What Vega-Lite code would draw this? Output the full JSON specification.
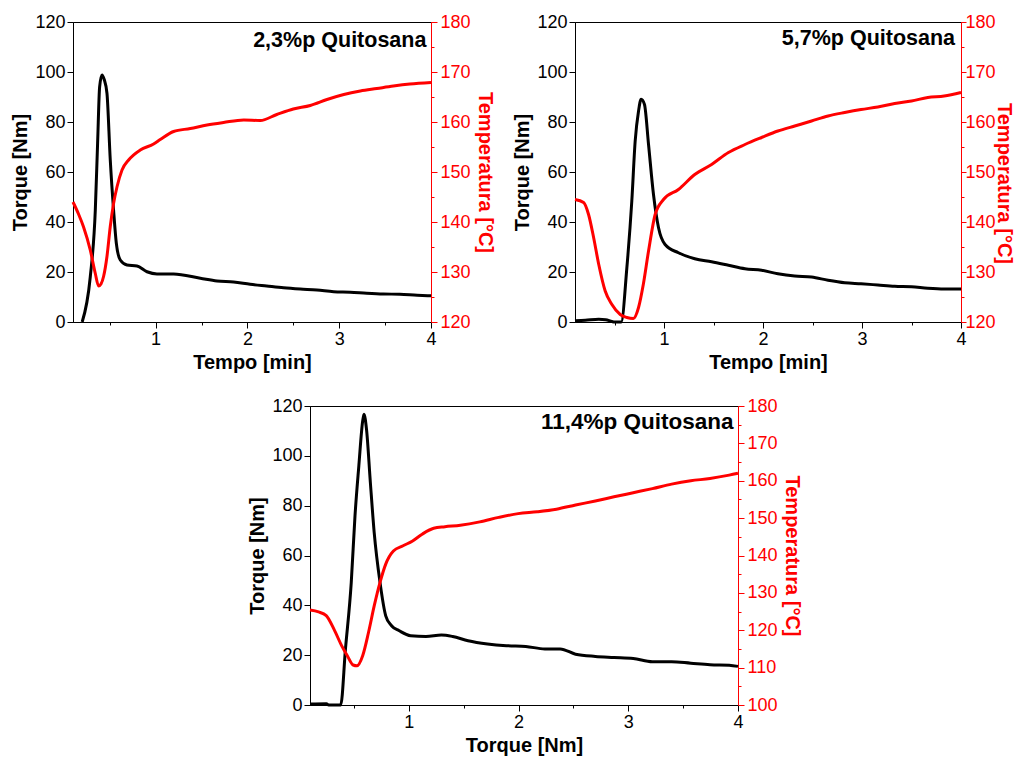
{
  "$schema": "https://vega.github.io/schema/vega-lite/v6.json",
  "padding": {"left": 10, "top": 12, "right": 0, "bottom": 0},
  "background": "white",
  "datasets": {
    "p1_torque": [
      {"t": 0.2, "v": 0}, {"t": 0.288, "v": 18}, {"t": 0.343, "v": 44.8}, {"t": 0.368, "v": 71.5}, {"t": 0.39, "v": 94}, {"t": 0.416, "v": 98.8}, {"t": 0.44, "v": 97}, {"t": 0.47, "v": 91.5}, {"t": 0.506, "v": 64.8}, {"t": 0.542, "v": 44.8}, {"t": 0.572, "v": 31.5}, {"t": 0.615, "v": 24.8}, {"t": 0.688, "v": 22.8}, {"t": 0.797, "v": 22.4}, {"t": 0.906, "v": 20.1}, {"t": 1.015, "v": 19.2}, {"t": 1.196, "v": 19.2}, {"t": 1.487, "v": 17.5}, {"t": 1.669, "v": 16.4}, {"t": 1.85, "v": 16}, {"t": 2.03, "v": 15.1}, {"t": 2.21, "v": 14.4}, {"t": 2.394, "v": 13.7}, {"t": 2.576, "v": 13.2}, {"t": 2.758, "v": 12.8}, {"t": 2.94, "v": 12.1}, {"t": 3.12, "v": 11.9}, {"t": 3.3, "v": 11.5}, {"t": 3.48, "v": 11.2}, {"t": 3.66, "v": 11.1}, {"t": 3.85, "v": 10.7}, {"t": 4.0, "v": 10.5}
    ],
    "p1_temp": [
      {"t": 0.1, "v": 144}, {"t": 0.16, "v": 141.6}, {"t": 0.215, "v": 139}, {"t": 0.288, "v": 134.4}, {"t": 0.343, "v": 129.7}, {"t": 0.379, "v": 127.2}, {"t": 0.405, "v": 127.6}, {"t": 0.433, "v": 129.1}, {"t": 0.47, "v": 133.1}, {"t": 0.506, "v": 139.1}, {"t": 0.542, "v": 143.7}, {"t": 0.579, "v": 147}, {"t": 0.634, "v": 150.4}, {"t": 0.706, "v": 152.4}, {"t": 0.833, "v": 154.4}, {"t": 0.978, "v": 155.6}, {"t": 1.05, "v": 156.5}, {"t": 1.196, "v": 158.1}, {"t": 1.378, "v": 158.7}, {"t": 1.56, "v": 159.4}, {"t": 1.74, "v": 159.9}, {"t": 1.96, "v": 160.4}, {"t": 2.14, "v": 160.3}, {"t": 2.32, "v": 161.5}, {"t": 2.5, "v": 162.6}, {"t": 2.685, "v": 163.3}, {"t": 2.867, "v": 164.5}, {"t": 3.05, "v": 165.5}, {"t": 3.23, "v": 166.2}, {"t": 3.41, "v": 166.7}, {"t": 3.59, "v": 167.2}, {"t": 3.77, "v": 167.6}, {"t": 4.0, "v": 167.9}
    ],
    "p2_torque": [
      {"t": 0.1, "v": 0.5}, {"t": 0.204, "v": 0.7}, {"t": 0.34, "v": 1.1}, {"t": 0.41, "v": 0.9}, {"t": 0.473, "v": 0.2}, {"t": 0.5, "v": 0}, {"t": 0.567, "v": 0}, {"t": 0.624, "v": 21.7}, {"t": 0.674, "v": 48.4}, {"t": 0.708, "v": 72.4}, {"t": 0.742, "v": 84.4}, {"t": 0.768, "v": 89.1}, {"t": 0.802, "v": 87}, {"t": 0.843, "v": 71}, {"t": 0.893, "v": 51}, {"t": 0.944, "v": 37.7}, {"t": 1.01, "v": 31}, {"t": 1.145, "v": 27.7}, {"t": 1.31, "v": 25.3}, {"t": 1.48, "v": 24.1}, {"t": 1.65, "v": 22.7}, {"t": 1.817, "v": 21.3}, {"t": 1.985, "v": 20.7}, {"t": 2.15, "v": 19.3}, {"t": 2.32, "v": 18.4}, {"t": 2.49, "v": 18}, {"t": 2.657, "v": 16.7}, {"t": 2.825, "v": 15.7}, {"t": 2.99, "v": 15.3}, {"t": 3.16, "v": 14.8}, {"t": 3.33, "v": 14.3}, {"t": 3.5, "v": 14.1}, {"t": 3.665, "v": 13.5}, {"t": 3.83, "v": 13.2}, {"t": 4.0, "v": 13.2}
    ],
    "p2_temp": [
      {"t": 0.1, "v": 144.5}, {"t": 0.187, "v": 143.9}, {"t": 0.237, "v": 141.5}, {"t": 0.288, "v": 136.9}, {"t": 0.34, "v": 131.5}, {"t": 0.405, "v": 126.2}, {"t": 0.473, "v": 123.5}, {"t": 0.557, "v": 121.5}, {"t": 0.624, "v": 120.9}, {"t": 0.69, "v": 120.7}, {"t": 0.742, "v": 122.9}, {"t": 0.79, "v": 127.5}, {"t": 0.843, "v": 134.2}, {"t": 0.91, "v": 141.5}, {"t": 0.994, "v": 144.5}, {"t": 1.145, "v": 146.5}, {"t": 1.31, "v": 149.5}, {"t": 1.48, "v": 151.5}, {"t": 1.65, "v": 153.9}, {"t": 1.817, "v": 155.5}, {"t": 1.985, "v": 156.9}, {"t": 2.15, "v": 158.2}, {"t": 2.32, "v": 159.2}, {"t": 2.49, "v": 160.2}, {"t": 2.657, "v": 161.2}, {"t": 2.825, "v": 161.9}, {"t": 2.99, "v": 162.5}, {"t": 3.16, "v": 163}, {"t": 3.33, "v": 163.7}, {"t": 3.5, "v": 164.2}, {"t": 3.665, "v": 164.9}, {"t": 3.83, "v": 165.2}, {"t": 4.0, "v": 165.9}
    ],
    "p3_torque": [
      {"t": 0.1, "v": 0.4}, {"t": 0.25, "v": 0.5}, {"t": 0.27, "v": 0}, {"t": 0.38, "v": 0}, {"t": 0.423, "v": 22.4}, {"t": 0.476, "v": 49.2}, {"t": 0.51, "v": 75.9}, {"t": 0.545, "v": 96}, {"t": 0.58, "v": 114}, {"t": 0.592, "v": 116.7}, {"t": 0.615, "v": 110.6}, {"t": 0.65, "v": 89.3}, {"t": 0.685, "v": 69.2}, {"t": 0.738, "v": 49.2}, {"t": 0.79, "v": 35.8}, {"t": 0.843, "v": 31.8}, {"t": 0.913, "v": 29.8}, {"t": 1.017, "v": 27.8}, {"t": 1.157, "v": 27.5}, {"t": 1.297, "v": 28.1}, {"t": 1.4, "v": 27.5}, {"t": 1.54, "v": 25.8}, {"t": 1.717, "v": 24.5}, {"t": 1.89, "v": 23.8}, {"t": 2.066, "v": 23.5}, {"t": 2.24, "v": 22.5}, {"t": 2.38, "v": 22.5}, {"t": 2.52, "v": 20.4}, {"t": 2.7, "v": 19.5}, {"t": 2.87, "v": 19.1}, {"t": 3.045, "v": 18.7}, {"t": 3.22, "v": 17.4}, {"t": 3.395, "v": 17.4}, {"t": 3.57, "v": 16.8}, {"t": 3.745, "v": 16.2}, {"t": 3.92, "v": 16}, {"t": 4.0, "v": 15.5}
    ],
    "p3_temp": [
      {"t": 0.1, "v": 125.4}, {"t": 0.178, "v": 124.9}, {"t": 0.248, "v": 123.9}, {"t": 0.318, "v": 120.3}, {"t": 0.388, "v": 115.9}, {"t": 0.44, "v": 113.2}, {"t": 0.493, "v": 110.7}, {"t": 0.528, "v": 110.5}, {"t": 0.58, "v": 113.2}, {"t": 0.633, "v": 119.4}, {"t": 0.685, "v": 126.5}, {"t": 0.738, "v": 132.8}, {"t": 0.79, "v": 137.7}, {"t": 0.86, "v": 141.2}, {"t": 0.948, "v": 142.6}, {"t": 1.035, "v": 143.9}, {"t": 1.122, "v": 145.7}, {"t": 1.227, "v": 147.3}, {"t": 1.33, "v": 147.7}, {"t": 1.47, "v": 148.1}, {"t": 1.647, "v": 149.0}, {"t": 1.82, "v": 150.2}, {"t": 1.997, "v": 151.2}, {"t": 2.17, "v": 151.7}, {"t": 2.346, "v": 152.4}, {"t": 2.52, "v": 153.5}, {"t": 2.7, "v": 154.6}, {"t": 2.87, "v": 155.7}, {"t": 3.045, "v": 156.8}, {"t": 3.22, "v": 157.9}, {"t": 3.395, "v": 159.1}, {"t": 3.57, "v": 160.0}, {"t": 3.745, "v": 160.6}, {"t": 3.92, "v": 161.5}, {"t": 4.0, "v": 162}
    ],
    "labels": [
      {"panel": "p1", "label": "2,3%p Quitosana"},
      {"panel": "p2", "label": "5,7%p Quitosana"},
      {"panel": "p3", "label": "11,4%p Quitosana"}
    ]
  },
  "config": {
    "font": "Liberation Sans",
    "view": {"stroke": "black", "strokeWidth": 1},
    "axis": {
      "grid": false, "labelFontSize": 18, "titleFontSize": 20, "titleFontWeight": "bold",
      "labelColor": "black", "titleColor": "black", "domainColor": "black", "tickColor": "black",
      "labelFlush": false, "labelOverlap": false, "labelFont": "Liberation Sans", "titleFont": "Liberation Sans"
    },
    "line": {"strokeWidth": 3, "interpolate": "monotone"}
  },
  "vconcat": [
    {
      "spacing": 17,
      "hconcat": [
        {
          "width": 358, "height": 300,
          "layer": [
            {
              "layer": [
                {
                  "data": {"name": "p1_torque"},
                  "mark": {"type": "line", "color": "black"},
                  "encoding": {
                    "x": {"field": "t", "type": "quantitative", "scale": {"domain": [0.1, 4], "nice": false, "zero": false},
                      "axis": {"title": "Tempo [min]", "values": [0.5, 1, 1.5, 2, 2.5, 3, 3.5, 4], "labelExpr": "datum.value % 1 == 0 ? '' + datum.value : ''", "tickSize": {"condition": {"test": "datum.value % 1 != 0", "value": 3}, "value": 6}, "labelPadding": 2, "titlePadding": 4}},
                    "y": {"field": "v", "type": "quantitative", "scale": {"domain": [0, 120], "nice": false},
                      "axis": {"title": "Torque [Nm]", "orient": "left", "values": [0, 10, 20, 30, 40, 50, 60, 70, 80, 90, 100, 110, 120], "labelExpr": "datum.value % 20 == 0 ? datum.label : ''", "tickSize": {"condition": {"test": "datum.value % 20 != 0", "value": 3}, "value": 6}, "labelPadding": 2, "titlePadding": 4}}
                  }
                },
                {
                  "data": {"name": "labels"},
                  "transform": [{"filter": "datum.panel == 'p1'"}],
                  "mark": {"type": "text", "align": "right", "baseline": "alphabetic", "fontSize": 21.5, "fontWeight": "bold", "color": "black"},
                  "encoding": {
                    "x": {"datum": 3.95, "type": "quantitative"},
                    "y": {"datum": 110, "type": "quantitative"},
                    "text": {"field": "label"}
                  }
                }
              ]
            },
            {
              "data": {"name": "p1_temp"},
              "mark": {"type": "line", "color": "#ff0000"},
              "encoding": {
                "x": {"field": "t", "type": "quantitative"},
                "y": {"field": "v", "type": "quantitative", "scale": {"domain": [120, 180], "nice": false, "zero": false},
                  "axis": {"title": "Temperatura [°C]", "orient": "right", "values": [120, 125, 130, 135, 140, 145, 150, 155, 160, 165, 170, 175, 180], "labelExpr": "datum.value % 10 == 0 ? datum.label : ''", "tickSize": {"condition": {"test": "datum.value % 10 != 0", "value": 3}, "value": 6}, "labelPadding": 3, "titlePadding": 4, "domainColor": "#ff0000", "tickColor": "#ff0000", "labelColor": "#ff0000", "titleColor": "#ff0000"}}
              }
            }
          ],
          "resolve": {"scale": {"y": "independent"}}
        },
        {
          "width": 386, "height": 300,
          "layer": [
            {
              "layer": [
                {
                  "data": {"name": "p2_torque"},
                  "mark": {"type": "line", "color": "black"},
                  "encoding": {
                    "x": {"field": "t", "type": "quantitative", "scale": {"domain": [0.1, 4], "nice": false, "zero": false},
                      "axis": {"title": "Tempo [min]", "values": [0.5, 1, 1.5, 2, 2.5, 3, 3.5, 4], "labelExpr": "datum.value % 1 == 0 ? '' + datum.value : ''", "tickSize": {"condition": {"test": "datum.value % 1 != 0", "value": 3}, "value": 6}, "labelPadding": 2, "titlePadding": 4}},
                    "y": {"field": "v", "type": "quantitative", "scale": {"domain": [0, 120], "nice": false},
                      "axis": {"title": "Torque [Nm]", "orient": "left", "values": [0, 10, 20, 30, 40, 50, 60, 70, 80, 90, 100, 110, 120], "labelExpr": "datum.value % 20 == 0 ? datum.label : ''", "tickSize": {"condition": {"test": "datum.value % 20 != 0", "value": 3}, "value": 6}, "labelPadding": 2, "titlePadding": 4}}
                  }
                },
                {
                  "data": {"name": "labels"},
                  "transform": [{"filter": "datum.panel == 'p2'"}],
                  "mark": {"type": "text", "align": "right", "baseline": "alphabetic", "fontSize": 21.5, "fontWeight": "bold", "color": "black"},
                  "encoding": {
                    "x": {"datum": 3.94, "type": "quantitative"},
                    "y": {"datum": 110.8, "type": "quantitative"},
                    "text": {"field": "label"}
                  }
                }
              ]
            },
            {
              "data": {"name": "p2_temp"},
              "mark": {"type": "line", "color": "#ff0000"},
              "encoding": {
                "x": {"field": "t", "type": "quantitative"},
                "y": {"field": "v", "type": "quantitative", "scale": {"domain": [120, 180], "nice": false, "zero": false},
                  "axis": {"title": "Temperatura [°C]", "orient": "right", "values": [120, 125, 130, 135, 140, 145, 150, 155, 160, 165, 170, 175, 180], "labelExpr": "datum.value % 10 == 0 ? datum.label : ''", "tickSize": {"condition": {"test": "datum.value % 10 != 0", "value": 3}, "value": 5}, "labelPadding": -1, "titlePadding": -2, "titleY": 161, "domainColor": "#ff0000", "tickColor": "#ff0000", "labelColor": "#ff0000", "titleColor": "#ff0000"}}
              }
            }
          ],
          "resolve": {"scale": {"y": "independent"}}
        }
      ]
    },
    {
      "spacing": 20,
      "hconcat": [
        {
          "width": 154, "height": 10,
          "view": {"stroke": null},
          "data": {"values": []},
          "mark": {"type": "rule"},
          "encoding": {}
        },
        {
          "width": 428, "height": 299,
          "layer": [
            {
              "layer": [
                {
                  "data": {"name": "p3_torque"},
                  "mark": {"type": "line", "color": "black"},
                  "encoding": {
                    "x": {"field": "t", "type": "quantitative", "scale": {"domain": [0.1, 4], "nice": false, "zero": false},
                      "axis": {"title": "Torque [Nm]", "values": [0.5, 1, 1.5, 2, 2.5, 3, 3.5, 4], "labelExpr": "datum.value % 1 == 0 ? '' + datum.value : ''", "tickSize": {"condition": {"test": "datum.value % 1 != 0", "value": 3}, "value": 6}, "labelPadding": 2, "titlePadding": 4}},
                    "y": {"field": "v", "type": "quantitative", "scale": {"domain": [0, 120], "nice": false},
                      "axis": {"title": "Torque [Nm]", "orient": "left", "values": [0, 10, 20, 30, 40, 50, 60, 70, 80, 90, 100, 110, 120], "labelExpr": "datum.value % 20 == 0 ? datum.label : ''", "tickSize": {"condition": {"test": "datum.value % 20 != 0", "value": 3}, "value": 6}, "labelPadding": 2, "titlePadding": 4}}
                  }
                },
                {
                  "data": {"name": "labels"},
                  "transform": [{"filter": "datum.panel == 'p3'"}],
                  "mark": {"type": "text", "align": "right", "baseline": "alphabetic", "fontSize": 22.5, "fontWeight": "bold", "color": "black"},
                  "encoding": {
                    "x": {"datum": 3.96, "type": "quantitative"},
                    "y": {"datum": 110.9, "type": "quantitative"},
                    "text": {"field": "label"}
                  }
                }
              ]
            },
            {
              "data": {"name": "p3_temp"},
              "mark": {"type": "line", "color": "#ff0000"},
              "encoding": {
                "x": {"field": "t", "type": "quantitative"},
                "y": {"field": "v", "type": "quantitative", "scale": {"domain": [100, 180], "nice": false, "zero": false},
                  "axis": {"title": "Temperatura [°C]", "orient": "right", "values": [100, 105, 110, 115, 120, 125, 130, 135, 140, 145, 150, 155, 160, 165, 170, 175, 180], "labelExpr": "datum.value % 10 == 0 ? datum.label : ''", "tickSize": {"condition": {"test": "datum.value % 10 != 0", "value": 3}, "value": 6}, "labelPadding": 3, "titlePadding": 4, "domainColor": "#ff0000", "tickColor": "#ff0000", "labelColor": "#ff0000", "titleColor": "#ff0000"}}
              }
            }
          ],
          "resolve": {"scale": {"y": "independent"}}
        }
      ]
    }
  ],
  "spacing": 23
}
